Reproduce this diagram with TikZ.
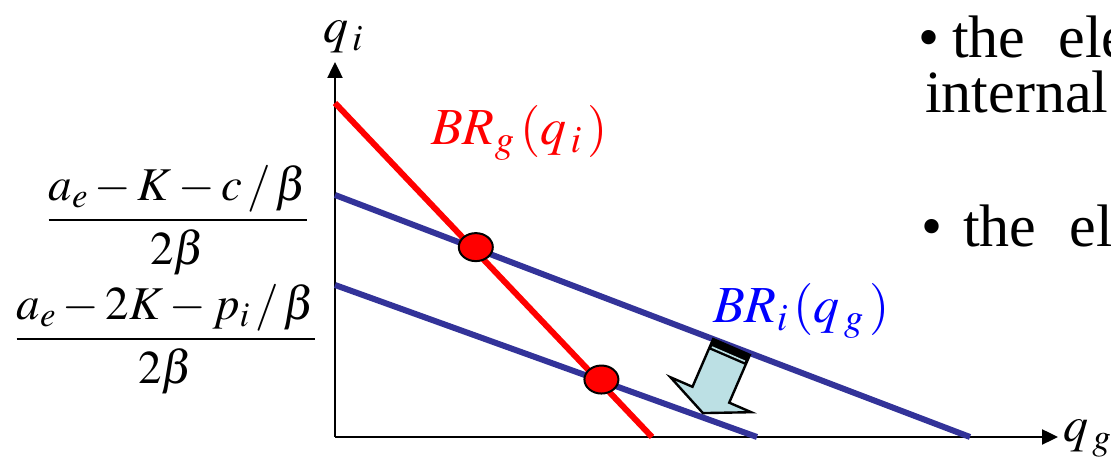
\documentclass[tikz,border=0pt]{standalone}
\usepackage{amsmath}
\usepackage{mathptmx}
\usepackage{fontspec}
\setmainfont{Liberation Serif}
\usepackage{tikz}
\usetikzlibrary{arrows.meta,shapes.geometric}
\definecolor{brblue}{RGB}{51,51,153}
\definecolor{labelblue}{RGB}{0,0,255}
\definecolor{shiftfill}{RGB}{188,224,228}

\begin{document}
\begin{tikzpicture}[x=1pt,y=1pt]
  \tikzset{axisline/.style={draw=black,line width=2.4pt,-{Triangle[length=16pt,width=15pt]}}}
  \tikzset{brline/.style={line width=6pt}}
  \tikzset{eqdot/.style={ellipse,fill=red,draw=black,line width=2pt,minimum width=34pt,minimum height=28pt,inner sep=0pt,xshift=4pt}}
  \tikzset{axislabel/.style={font=\fontsize{50}{60}\selectfont,inner sep=0pt}}
  \tikzset{brlabel/.style={font=\fontsize{52}{62}\selectfont,inner sep=0pt}}
  \tikzset{intercept/.style={font=\fontsize{47}{56}\selectfont,inner sep=0pt}}
  \tikzset{slidetext/.style={font=\fontsize{60}{72}\selectfont,inner sep=0pt}}
  \useasboundingbox (0,0) rectangle (1111,470);
  % axes
  \coordinate (o) at (335,33);
  \coordinate (ytip) at (335,408);
  \coordinate (xtip) at (1058,33);
  \draw[axisline] (o) -- (ytip);
  \draw[axisline] (o) -- (xtip);
  \node[axislabel,anchor=base] (qi) at (343,427) {$q_{\,i}$};
  \node[axislabel,anchor=base west] (qg) at (1063,28) {$q_{\,g}$};
  % best responses
  \coordinate (g0) at (335,367);
  \coordinate (g1) at (652,33);
  \coordinate (ia0) at (335,275);
  \coordinate (ia1) at (970,33);
  \coordinate (ib0) at (335,185);
  \coordinate (ib1) at (757,33);
  \draw[brline,brblue] (ia0) -- (ia1);
  \draw[brline,brblue] (ib0) -- (ib1);
  \draw[brline,red] (g0) -- (g1);
  \node[eqdot] (e0) at (intersection of g0--g1 and ia0--ia1) {};
  \node[eqdot] (e1) at (intersection of g0--g1 and ib0--ib1) {};
  % shift arrow
  \begin{scope}[cm={0.918,-0.397,-0.397,-0.918,(731.5,123)}]
    \draw[fill=shiftfill,line width=2.4pt,line join=miter]
      (-20,0) -- (20,0) -- (20,52) -- (44,52) -- (0,72) -- (-44,52) -- (-20,52) -- cycle;
    \fill[black] (-20,0) rectangle (20,11);
    \fill[shiftfill] (-18,7) rectangle (18,8.6);
  \end{scope}
  % labels
  \node[brlabel,text=red,anchor=base west] (brg) at (431,325) {$BR_{g}\,(q_{\,i}\,)$};
  \node[brlabel,text=labelblue,anchor=base west] (bri) at (713,147) {$BR_{i}\,(q_{\,g}\,)$};
  \node[intercept] (ka) at (178,250) {$\dfrac{a_e-K-c\,/\,\beta}{2\beta}$};
  \node[intercept] (kb) at (166,131) {$\dfrac{a_e-2K-p_i\,/\,\beta}{2\beta}$};
  % text on the right
  \node[slidetext,anchor=base west] (t1) at (918,412) {•\hspace{13pt}the\hspace{33pt}ele};
  \node[slidetext,anchor=base west] (t2) at (925,357) {internal};
  \node[slidetext,anchor=base west] (t3) at (921,223) {•\hspace{21pt}the\hspace{33pt}ele};
\end{tikzpicture}
\end{document}
